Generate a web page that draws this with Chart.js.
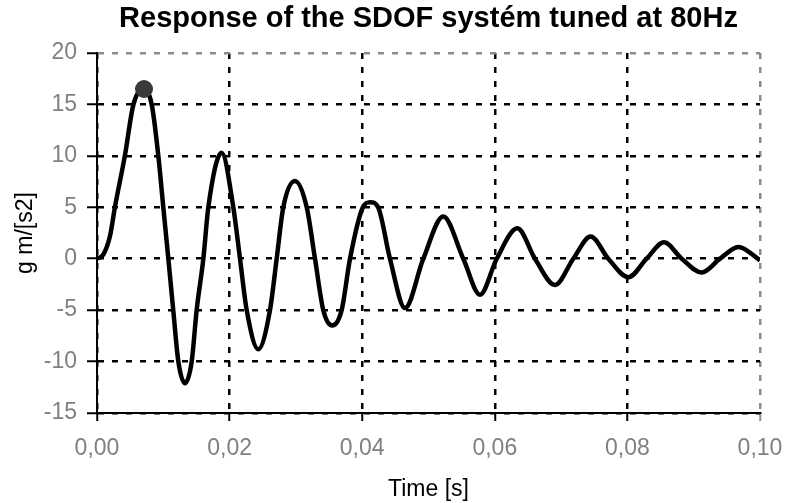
<!DOCTYPE html>
<html>
<head>
<meta charset="utf-8">
<script src="https://cdn.jsdelivr.net/npm/chart.js@4"></script>
<style>
body { margin: 0; background: #fff; }
</style>
</head>
<body>
<canvas id="sdofChart" width="788" height="503"></canvas>
<script>
// time [s] and response [g m/s2]
var times = [
    0, 0.00095, 0.00196, 0.0027, 0.0042, 0.0055, 0.0070, 0.00825, 0.00925, 0.0100,
    0.01076, 0.0115, 0.01227, 0.01327, 0.01428, 0.01503, 0.01604, 0.01679, 0.0188,
    0.02056, 0.02157, 0.02258, 0.02433, 0.02609, 0.0271, 0.0281, 0.02986,
    0.03163, 0.03288, 0.03413, 0.03549, 0.0369, 0.03816, 0.0401, 0.0412,
    0.0424, 0.04419, 0.04646, 0.04922, 0.05223, 0.05525, 0.05777, 0.06029,
    0.0634, 0.06606, 0.06908, 0.07184, 0.07446, 0.07712, 0.08014, 0.0829,
    0.08552, 0.08819, 0.0912, 0.09397, 0.09673, 0.1
];
var accel = [
    0, 0.4, 2.2, 5, 10, 15, 16.5, 15, 10, 5,
    0, -5, -10, -12.1, -10, -5, 0, 5, 10.3,
    5, 0, -5, -8.8, -5, 0, 5, 7.55,
    5, 0, -5, -6.5, -5, 0, 5, 5.5,
    5, 0, -4.8, 0, 4.1, 0, -3.5, 0,
    2.95, 0, -2.55, 0, 2.15, 0, -1.8, 0,
    1.6, 0, -1.35, 0, 1.15, -0.15
];
var peakTime = [0.00709];
var peakValue = [16.5];

var xMin = 0, xMax = 0.1, xStep = 0.02;
var yMin = -15, yMax = 20, yStep = 5;

var fontFamily = '"Liberation Sans", Arial, sans-serif';

var lineData = times.map(function(t, i) {
    return { x: t, y: accel[i] };
});
var peakData = peakTime.map(function(t, i) {
    return { x: t, y: peakValue[i] };
});

function edgeColor(edgeValue, normal) {
    return function(c) {
        if (c.tick && Math.abs(c.tick.value - edgeValue) < 1e-9) return '#8c8c8c';
        return normal;
    };
}

var ctx = document.getElementById('sdofChart');
var myChart = new Chart(ctx.getContext('2d'), {
    type: 'line',
    data: {
        datasets: [{
            label: 'peak',
            data: peakData,
            showLine: false,
            pointRadius: 9,
            pointBackgroundColor: '#3a3a3a',
            pointBorderColor: '#3a3a3a',
            pointBorderWidth: 0
        }, {
            label: 'response',
            data: lineData,
            borderColor: '#000',
            borderWidth: 4.5,
            pointRadius: 0,
            fill: false,
            cubicInterpolationMode: 'monotone'
        }]
    },
    options: {
        responsive: false,
        animation: false,
        layout: {
            padding: { left: 0, right: 28, top: 0, bottom: 0 }
        },
        scales: {
            x: {
                type: 'linear',
                min: xMin,
                max: xMax,
                afterFit: function(scale) {
                    scale.height = 90;
                    scale.paddingLeft = 0;
                    scale.paddingRight = 0;
                },
                ticks: {
                    stepSize: xStep,
                    color: '#808080',
                    padding: 14,
                    font: { family: fontFamily, size: 23 },
                    callback: function(v) { return v.toFixed(2).replace('.', ','); }
                },
                grid: {
                    color: edgeColor(xMax, '#000'),
                    lineWidth: 2.5,
                    tickLength: 8,
                    tickColor: edgeColor(xMax, '#000'),
                    tickWidth: 2,
                    tickBorderDash: []
                },
                border: { color: '#000', width: 2, dash: [6, 8] },
                title: {
                    display: true,
                    text: 'Time [s]',
                    color: '#000',
                    padding: { top: 0, bottom: 0 },
                    font: { family: fontFamily, size: 23 }
                }
            },
            y: {
                min: yMin,
                max: yMax,
                afterFit: function(scale) { scale.width = 97; },
                ticks: {
                    stepSize: yStep,
                    color: '#808080',
                    padding: 10,
                    font: { family: fontFamily, size: 23 }
                },
                grid: {
                    color: edgeColor(yMax, '#000'),
                    lineWidth: 2.5,
                    tickLength: 10,
                    tickColor: '#000',
                    tickWidth: 2,
                    tickBorderDash: []
                },
                border: { color: '#000', width: 2, dash: [6, 8] },
                title: {
                    display: true,
                    text: 'g m/[s2]',
                    color: '#000',
                    padding: { top: 12, bottom: 0 },
                    font: { family: fontFamily, size: 23 }
                }
            }
        },
        plugins: {
            legend: { display: false },
            tooltip: { enabled: false },
            title: {
                display: true,
                fullSize: false,
                text: 'Response of the SDOF systém tuned at 80Hz',
                color: '#000',
                padding: { top: 2, bottom: 16.2 },
                font: { family: fontFamily, size: 29, weight: 'bold', lineHeight: 1.2 }
            }
        }
    }
});
</script>
</body>
</html>
